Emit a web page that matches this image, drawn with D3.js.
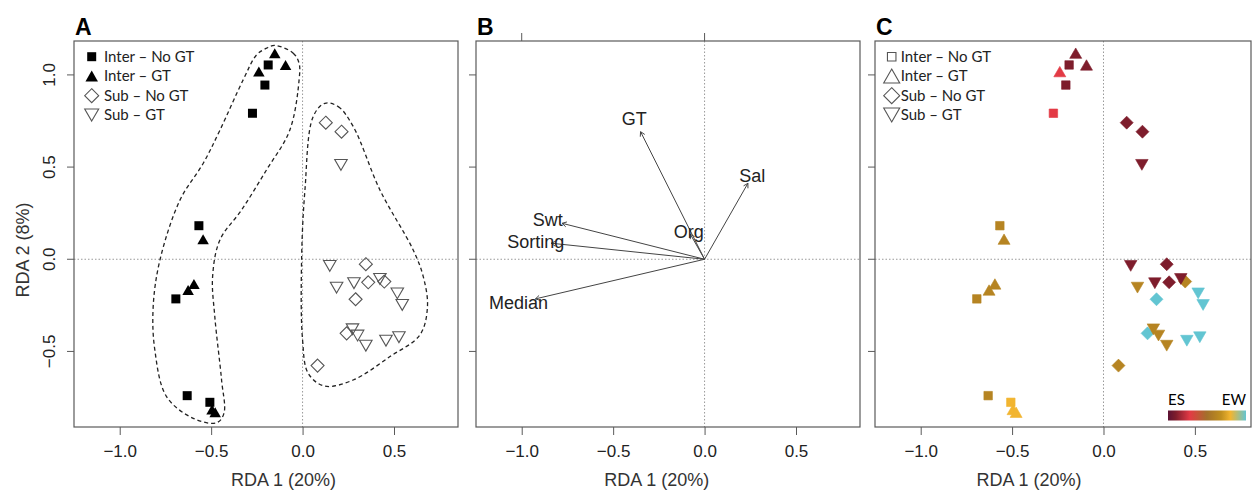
<!DOCTYPE html>
<html>
<head>
<meta charset="utf-8">
<script src="https://cdnjs.cloudflare.com/ajax/libs/d3/7.8.5/d3.min.js"></script>
<style>
  body { margin: 0; background: #fff; }
  svg { display: block; }
</style>
</head>
<body>
<script>
/** RDA ordination, three panels *******************/

// Site scores [RDA1, RDA2, position on ES -> EW gradient (0..1)]
var interNoGT = [
    [-0.188, 1.054, 0.10], [-0.206, 0.945, 0.10], [-0.274, 0.792, 0.28],
    [-0.567, 0.182, 0.62], [-0.693, -0.215, 0.62], [-0.631, -0.740, 0.62],
    [-0.507, -0.776, 0.80]
];
var interGT = [
    [-0.152, 1.118, 0.10], [-0.239, 1.018, 0.28], [-0.093, 1.054, 0.10],
    [-0.544, 0.109, 0.62], [-0.594, -0.134, 0.62], [-0.626, -0.167, 0.62],
    [-0.495, -0.815, 0.80], [-0.478, -0.830, 0.80]
];
var subNoGT = [
    [0.127, 0.741, 0.10], [0.213, 0.692, 0.10], [0.346, -0.027, 0.10],
    [0.359, -0.125, 0.10], [0.447, -0.121, 0.62], [0.290, -0.217, 1.00],
    [0.241, -0.402, 1.00], [0.082, -0.577, 0.62]
];
var subGT = [
    [0.210, 0.512, 0.10], [0.149, -0.036, 0.10], [0.186, -0.154, 0.62],
    [0.281, -0.130, 0.10], [0.423, -0.107, 0.10], [0.518, -0.185, 1.00],
    [0.545, -0.248, 1.00], [0.273, -0.380, 0.62], [0.301, -0.414, 0.62],
    [0.346, -0.469, 0.62], [0.456, -0.442, 1.00], [0.527, -0.423, 1.00]
];

// Dashed group outlines in panel A (data units)
var hullInter = [
    [-0.152, 1.160], [-0.051, 1.118], [-0.019, 1.063], [-0.019, 0.973],
    [-0.070, 0.700], [-0.197, 0.485], [-0.334, 0.267], [-0.452, 0.105],
    [-0.492, -0.094], [-0.480, -0.311], [-0.443, -0.655], [-0.430, -0.836],
    [-0.470, -0.887], [-0.598, -0.863], [-0.744, -0.745], [-0.808, -0.492],
    [-0.817, -0.257], [-0.780, -0.004], [-0.670, 0.322], [-0.543, 0.521],
    [-0.452, 0.700], [-0.325, 0.973], [-0.252, 1.108], [-0.197, 1.145]
];
var hullSub = [
    [0.122, 0.846], [0.195, 0.828], [0.277, 0.720], [0.423, 0.376],
    [0.605, 0.050], [0.660, -0.094], [0.683, -0.257], [0.642, -0.410],
    [0.478, -0.528], [0.277, -0.655], [0.120, -0.688], [0.031, -0.619],
    [0.000, -0.438], [-0.005, 0.014], [0.013, 0.376], [0.058, 0.774]
];

// Environmental vectors (panel B)
var arrowNames = ["GT", "Sal", "Org", "Swt", "Sorting", "Median"];
var arrowX = [-0.350, 0.237, -0.078, -0.779, -0.839, -0.925];
var arrowY = [0.692, 0.412, 0.136, 0.195, 0.087, -0.215];

// Axes
var xTicks = [-1.0, -0.5, 0.0, 0.5];
var yTicks = [-0.5, 0.0, 0.5, 1.0];
var legendLabels = ["Inter \u2013 No GT", "Inter \u2013 GT", "Sub \u2013 No GT", "Sub \u2013 GT"];
var gradStops = [0, 0.1, 0.28, 0.5, 0.68, 0.8, 1.0];
var gradColors = ["#5b1233", "#7e1d2c", "#e33a45", "#a3702a", "#bf8e1e", "#f2b530", "#62c5d2"];

//**************************************************/

var W = 1258, H = 491;
var plotTop = 41, plotBottom = 427;
var fontR = "'Liberation Sans', Arial, Helvetica, sans-serif";
var fontLegend = "Lato, 'Open Sans', sans-serif";
var frameColor = "#5a5a5a";

var svg = d3.select("body").append("svg")
    .attr("width", W)
    .attr("height", H);

var y = d3.scaleLinear().domain([-0.91, 1.184]).range([plotBottom, plotTop]);
var siteColor = d3.scaleLinear().domain(gradStops).range(gradColors);

var panels = [
    { id: "A", x0: 74, x1: 458, dom: [-1.25, 0.85], title: 283.5 },
    { id: "B", x0: 476, x1: 860, dom: [-1.25, 0.85], title: 656.7 },
    { id: "C", x0: 875, x1: 1251, dom: [-1.25, 0.807], title: 1029 }
];

// Marker shapes, centred on their bounding box
function square(s) {
    var h = s / 2;
    return "M" + (-h) + "," + (-h) + "H" + h + "V" + h + "H" + (-h) + "Z";
}
function triUp(s) {
    var h = s * 0.866 / 2;
    return "M0," + (-h) + "L" + (s / 2) + "," + h + "L" + (-s / 2) + "," + h + "Z";
}
function triDown(s) {
    var h = s * 0.866 / 2;
    return "M0," + h + "L" + (s / 2) + "," + (-h) + "L" + (-s / 2) + "," + (-h) + "Z";
}
function diamond(r) {
    return "M0," + (-r) + "L" + r + ",0L0," + r + "L" + (-r) + ",0Z";
}

function drawFrame(g, p, x) {
    // dotted zero lines
    g.append("line")
        .attr("x1", p.x0).attr("x2", p.x1)
        .attr("y1", y(0)).attr("y2", y(0))
        .style("stroke", "#999").style("stroke-dasharray", "1.5,2");
    g.append("line")
        .attr("x1", x(0)).attr("x2", x(0))
        .attr("y1", plotTop).attr("y2", plotBottom)
        .style("stroke", "#999").style("stroke-dasharray", "1.5,2");

    // x axis
    var xAxis = d3.axisBottom(x)
        .tickValues(xTicks)
        .tickSize(8)
        .tickPadding(10)
        .tickFormat(function(d) { return d3.format(".1f")(d).replace("-", "\u2212"); });
    var ax = g.append("g").attr("transform", "translate(0," + plotBottom + ")").call(xAxis);
    ax.select(".domain").remove();
    ax.selectAll("line").style("stroke", frameColor);
    ax.selectAll("text")
        .style("font-family", fontR).style("font-size", "17px").style("fill", "#222");

    // y ticks (labels only on the first panel)
    g.selectAll(".ytick").data(yTicks).enter().append("line")
        .attr("class", "ytick")
        .attr("x1", p.x0 - 7).attr("x2", p.x0)
        .attr("y1", function(d) { return y(d); })
        .attr("y2", function(d) { return y(d); })
        .style("stroke", frameColor);

    g.append("rect")
        .attr("x", p.x0).attr("y", plotTop)
        .attr("width", p.x1 - p.x0).attr("height", plotBottom - plotTop)
        .style("fill", "none").style("stroke", frameColor).style("stroke-width", 1.2);

    g.append("text")
        .attr("x", p.title).attr("y", 486)
        .attr("text-anchor", "middle")
        .style("font-family", fontR).style("font-size", "18px").style("fill", "#333")
        .text("RDA 1 (20%)");

    g.append("text")
        .attr("x", p.x0 + 1).attr("y", 35)
        .style("font-family", fontR).style("font-size", "23px").style("font-weight", "bold")
        .text(p.id);
}

// Draws the four groups; coloured = false gives black / open symbols
function drawSites(g, x, coloured) {
    var groups = [
        { data: interNoGT, path: square(coloured ? 8.5 : 9), open: false },
        { data: interGT, path: triUp(coloured ? 12 : 11.5), open: false },
        { data: subNoGT, path: diamond(6.5), open: true },
        { data: subGT, path: triDown(12.5), open: true }
    ];
    groups.forEach(function(grp) {
        g.selectAll(null).data(grp.data).enter().append("path")
            .attr("d", grp.path)
            .attr("transform", function(d) { return "translate(" + x(d[0]) + "," + y(d[1]) + ")"; })
            .style("fill", function(d) {
                if (coloured) return siteColor(d[2]);
                return grp.open ? "none" : "#000";
            })
            .style("stroke", function(d) {
                if (coloured) return siteColor(d[2]);
                return grp.open ? "#555" : "none";
            })
            .style("stroke-width", coloured ? 0.6 : 1.1);
    });
}

function drawLegend(g, cx, tx, coloured) {
    var rows = [56.7, 76, 95.7, 115];
    var shapes = coloured
        ? [square(8.5), triUp(16), diamond(8), triDown(16)]
        : [square(9), triUp(12.5), diamond(7), triDown(14)];
    var filled = coloured ? [false, false, false, false] : [true, true, false, false];
    legendLabels.forEach(function(lab, i) {
        g.append("path")
            .attr("d", shapes[i])
            .attr("transform", "translate(" + cx + "," + rows[i] + ")")
            .style("fill", filled[i] ? "#000" : "#fff")
            .style("stroke", filled[i] ? "none" : "#555")
            .style("stroke-width", 1.1);
        g.append("text")
            .attr("x", tx).attr("y", rows[i] + 5)
            .style("font-family", fontLegend).style("font-size", "15px").style("fill", "#222")
            .text(lab);
    });
}

//**** Panel A **************/
var pA = panels[0];
var scA = d3.scaleLinear().domain(pA.dom).range([pA.x0, pA.x1]);
var gA = svg.append("g");
drawFrame(gA, pA, scA);

var outline = d3.line()
    .x(function(d) { return scA(d[0]); })
    .y(function(d) { return y(d[1]); })
    .curve(d3.curveCatmullRomClosed.alpha(0.5));

[hullInter, hullSub].forEach(function(h) {
    gA.append("path")
        .attr("d", outline(h))
        .style("fill", "none").style("stroke", "#222")
        .style("stroke-width", 1.3).style("stroke-dasharray", "4,3");
});
drawSites(gA, scA, false);
drawLegend(gA, 91.7, 104, false);

// y tick labels and title, rotated as in R
gA.selectAll(".ylab").data(yTicks).enter().append("text")
    .attr("transform", function(d) { return "translate(55," + y(d) + ") rotate(-90)"; })
    .attr("text-anchor", "middle")
    .style("font-family", fontR).style("font-size", "17px").style("fill", "#222")
    .text(function(d) { return d3.format(".1f")(d).replace("-", "\u2212"); });
gA.append("text")
    .attr("transform", "translate(29,250) rotate(-90)")
    .attr("text-anchor", "middle")
    .style("font-family", fontR).style("font-size", "18px").style("fill", "#333")
    .text("RDA 2 (8%)");

//**** Panel B **************/
var pB = panels[1];
var scB = d3.scaleLinear().domain(pB.dom).range([pB.x0, pB.x1]);
var gB = svg.append("g");
drawFrame(gB, pB, scB);

// top ticks of the vector scale
gB.selectAll(".ttick").data([-1.0, 0.0]).enter().append("line")
    .attr("x1", function(d) { return scB(d); })
    .attr("x2", function(d) { return scB(d); })
    .attr("y1", plotTop - 8).attr("y2", plotTop)
    .style("stroke", frameColor);

arrowNames.forEach(function(name, i) {
    var x1 = scB(0), y1 = y(0), x2 = scB(arrowX[i]), y2 = y(arrowY[i]);
    var ang = Math.atan2(y2 - y1, x2 - x1);
    var len = 5, spread = Math.PI / 6;
    gB.append("line")
        .attr("x1", x1).attr("y1", y1).attr("x2", x2).attr("y2", y2)
        .style("stroke", "#444").style("stroke-width", 1);
    gB.append("path")
        .attr("d", "M" + (x2 - len * Math.cos(ang - spread)) + "," + (y2 - len * Math.sin(ang - spread)) +
            "L" + x2 + "," + y2 +
            "L" + (x2 - len * Math.cos(ang + spread)) + "," + (y2 - len * Math.sin(ang + spread)))
        .style("fill", "none").style("stroke", "#444").style("stroke-width", 1);
    gB.append("text")
        .attr("x", scB(arrowX[i] * 1.1))
        .attr("y", y(arrowY[i] * 1.1))
        .attr("dy", "0.35em")
        .attr("text-anchor", "middle")
        .style("font-family", fontR).style("font-size", "18px").style("fill", "#222")
        .text(name);
});

//**** Panel C **************/
var pC = panels[2];
var scC = d3.scaleLinear().domain(pC.dom).range([pC.x0, pC.x1]);
var gC = svg.append("g");
drawFrame(gC, pC, scC);
drawSites(gC, scC, true);
drawLegend(gC, 891.7, 900.7, true);

// colour bar ES -> EW
var grad = svg.append("defs").append("linearGradient").attr("id", "esew");
gradStops.forEach(function(s, i) {
    grad.append("stop").attr("offset", s).attr("stop-color", gradColors[i]);
});
gC.append("rect")
    .attr("x", 1168).attr("y", 410.5).attr("width", 78).attr("height", 10)
    .style("fill", "url(#esew)");
gC.append("text").attr("x", 1168).attr("y", 405)
    .style("font-family", fontLegend).style("font-size", "15px").text("ES");
gC.append("text").attr("x", 1246).attr("y", 405).attr("text-anchor", "end")
    .style("font-family", fontLegend).style("font-size", "15px").text("EW");
</script>
</body>
</html>
